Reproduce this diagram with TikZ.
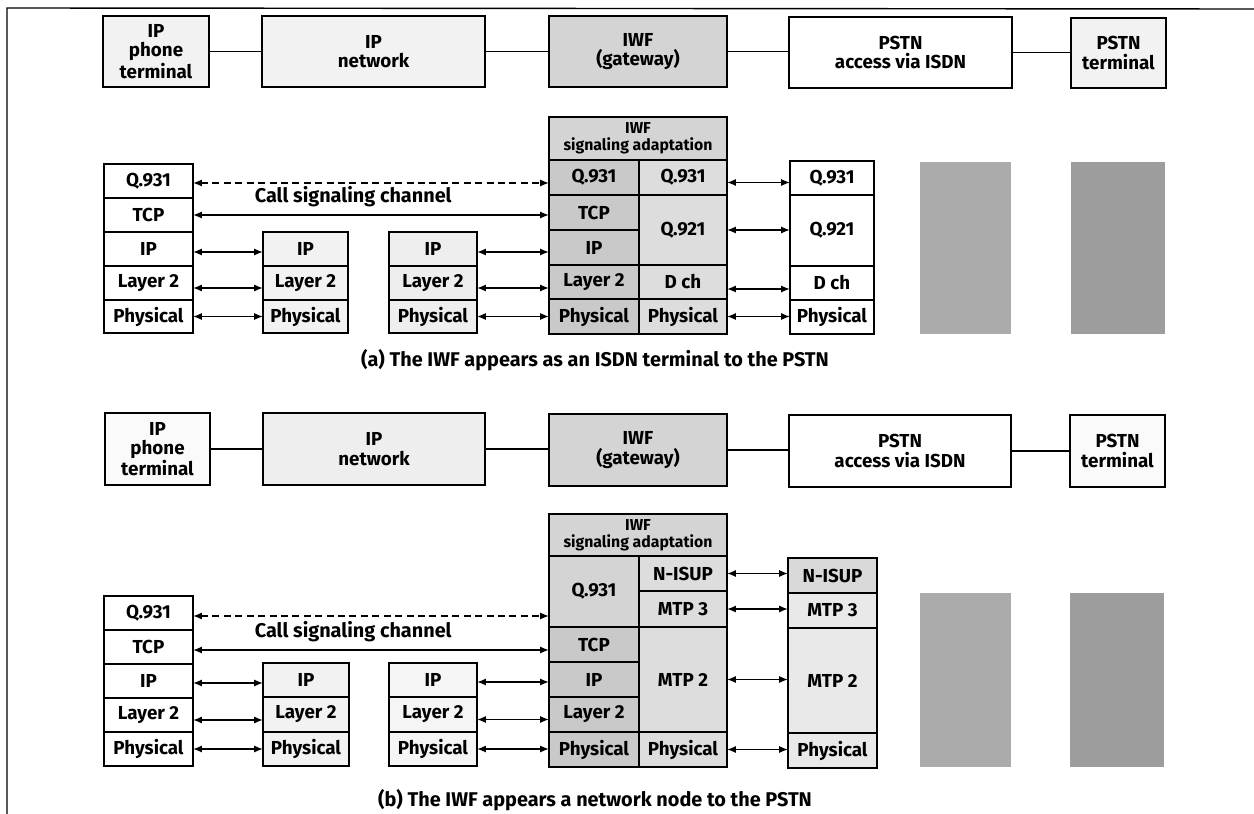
\documentclass[tikz,border=0pt]{standalone}
\usepackage{fontspec}
\setmainfont{Fira Sans}
\usetikzlibrary{arrows.meta}
\tikzset{>={Latex[length=5pt,width=4pt]}}
\colorlet{lightfill}{gray!10}
\colorlet{iwffill}{gray!34}
\colorlet{iwfdark}{gray!42}
\colorlet{iwflight}{gray!27}
\colorlet{pstnfill}{gray!17}
\colorlet{noiseA}{gray!66}
\colorlet{noiseB}{gray!77}
\tikzstyle{cell}=[draw,line width=0.9pt,inner sep=0pt,outer sep=0pt,align=center,
  font=\bfseries\fontsize{10.7}{11}\selectfont]
\tikzstyle{head}=[font=\bfseries\fontsize{9}{9.6}\selectfont]
\tikzstyle{caption}=[font=\bfseries\fontsize{11.3}{12}\selectfont]
\tikzstyle{link}=[<->,line width=0.9pt]
\tikzstyle{wire}=[line width=0.9pt]
% \cell{name}{x1}{y1}{x2}{y2}{options}{text}, in pixels
\def\cell#1#2#3#4#5#6#7{\node[cell,#6,minimum width={(#4-#2)*0.02cm},
  minimum height={(#5-#3)*0.02cm}] (#1) at ({(#2+#4)/2},{(#3+#5)/2}) {#7};}

\begin{document}
\begin{tikzpicture}[x=0.02cm,y=-0.02cm]
  \useasboundingbox (0,0) rectangle (1254,814);
  % FRAME
  \draw[line width=0.8pt] (1254,9) -- (7,8) -- (7,814);

  % TOP ROW (a)
  \cell{aphone}{103}{16}{209}{87}{fill=lightfill}{IP\\phone\\terminal}
  \cell{anet}{262}{16}{485}{87}{fill=lightfill}{IP\\network}
  \cell{agw}{549}{16}{727}{87}{fill=iwffill}{IWF\\(gateway)}
  \cell{aacc}{789}{17}{1012}{88}{fill=white}{PSTN\\access via ISDN}
  \cell{aterm}{1071}{18}{1166}{88}{fill=lightfill}{PSTN\\terminal}
  \draw[wire] (aphone.east) -- (aphone.east -| anet.west);
  \draw[wire] (anet.east) -- (anet.east -| agw.west);
  \draw[wire] (agw.east) -- (agw.east -| aacc.west);
  \draw[wire] (aacc.east) -- (aacc.east -| aterm.west);

  % STACKS (a)
  \cell{alq}{104}{164}{193}{198}{fill=white}{Q.931}
  \cell{alt}{104}{198}{193}{232}{fill=white}{TCP}
  \cell{ali}{104}{232}{193}{266}{fill=white}{IP}
  \cell{all}{104}{266}{193}{300}{fill=white}{Layer 2}
  \cell{alp}{104}{300}{193}{333}{fill=white}{Physical}
  \cell{ari}{263}{232}{348}{266}{fill=lightfill}{IP}
  \cell{arl}{263}{266}{348}{300}{fill=lightfill}{Layer 2}
  \cell{arp}{263}{300}{348}{333}{fill=lightfill}{Physical}
  \cell{asi}{389}{232}{477}{266}{fill=gray!13}{IP}
  \cell{asl}{389}{266}{477}{300}{fill=gray!13}{Layer 2}
  \cell{asp}{389}{300}{477}{333}{fill=gray!13}{Physical}
  \cell{aiwf}{549}{117}{727}{160}{fill=iwffill,head}{IWF\\signaling adaptation}
  \cell{aiq}{549}{160}{639}{195}{fill=iwfdark}{Q.931}
  \cell{ait}{549}{195}{639}{230}{fill=iwfdark}{TCP}
  \cell{aii}{549}{230}{639}{265}{fill=iwfdark}{IP}
  \cell{ail}{549}{265}{639}{299}{fill=iwfdark}{Layer 2}
  \cell{aip}{549}{299}{639}{334}{fill=iwfdark}{Physical}
  \cell{ajq}{639}{160}{727}{195}{fill=iwflight}{Q.931}
  \cell{ajn}{639}{195}{727}{265}{fill=iwflight}{Q.921}
  \cell{ajd}{639}{265}{727}{299}{fill=iwflight}{D ch}
  \cell{ajp}{639}{299}{727}{334}{fill=iwflight}{Physical}
  \cell{apq}{790}{161}{874}{195}{fill=white}{Q.931}
  \cell{apn}{790}{195}{874}{266}{fill=white}{Q.921}
  \cell{apd}{790}{266}{874}{300}{fill=white}{D ch}
  \cell{app}{790}{300}{874}{334}{fill=white}{Physical}
  \fill[noiseA] (920,162) rectangle (1011,334);
  \fill[noiseB] (1071,162) rectangle (1165,334);

  % ARROWS (a)
  \draw[link,dash pattern=on 4pt off 2.5pt] (alq.east) ++(0,2) coordinate (aq0) -- (aq0 -| aiq.west);
  \draw[link] (alt.east) -- node[pos=0.45,above=1pt,caption] (acall) {Call signaling channel} (alt.east -| ait.west);
  \draw[link] ([yshift=-0.06cm]ali.east) -- ([yshift=-0.06cm]ali.east -| ari.west);
  \draw[link] ([yshift=-0.1cm]all.east) -- ([yshift=-0.1cm]all.east -| arl.west);
  \draw[link] (alp.east) -- (alp.east -| arp.west);
  \draw[link] ([yshift=-0.06cm]asi.east) -- ([yshift=-0.06cm]asi.east -| aii.west);
  \draw[link] ([yshift=-0.1cm]asl.east) -- ([yshift=-0.1cm]asl.east -| ail.west);
  \draw[link] (asp.east) -- (asp.east -| aip.west);
  \draw[link] ([yshift=-0.1cm]ajq.east) -- ([yshift=-0.1cm]ajq.east -| apq.west);
  \draw[link] (ajn.east) -- (ajn.east -| apn.west);
  \draw[link] ([yshift=-0.14cm]ajd.east) -- ([yshift=-0.14cm]ajd.east -| apd.west);
  \draw[link] (ajp.east) -- (ajp.east -| app.west);
  \node[caption] (capa) at (595,360) {(a) The IWF appears as an ISDN terminal to the PSTN};

  % TOP ROW (b)
  \cell{bphone}{105}{413}{210}{485}{fill=gray!4}{IP\\phone\\terminal}
  \cell{bnet}{263}{413}{485}{485}{fill=gray!13}{IP\\network}
  \cell{bgw}{549}{414}{727}{486}{fill=iwffill}{IWF\\(gateway)}
  \cell{bacc}{789}{415}{1011}{487}{fill=white}{PSTN\\access via ISDN}
  \cell{bterm}{1070}{415}{1165}{487}{fill=gray!4}{PSTN\\terminal}
  \draw[wire] (bphone.east) -- (bphone.east -| bnet.west);
  \draw[wire] (bnet.east) -- (bnet.east -| bgw.west);
  \draw[wire] (bgw.east) -- (bgw.east -| bacc.west);
  \draw[wire] (bacc.east) -- (bacc.east -| bterm.west);

  % STACKS (b)
  \cell{blq}{104}{596}{193}{630}{fill=white}{Q.931}
  \cell{blt}{104}{630}{193}{664}{fill=white}{TCP}
  \cell{bli}{104}{664}{193}{698}{fill=white}{IP}
  \cell{bll}{104}{698}{193}{732}{fill=white}{Layer 2}
  \cell{blp}{104}{732}{193}{766}{fill=white}{Physical}
  \cell{bri}{263}{663}{349}{697}{fill=lightfill}{IP}
  \cell{brl}{263}{697}{349}{732}{fill=lightfill}{Layer 2}
  \cell{brp}{263}{732}{349}{766}{fill=lightfill}{Physical}
  \cell{bsi}{389}{663}{477}{697}{fill=gray!8}{IP}
  \cell{bsl}{389}{697}{477}{732}{fill=gray!8}{Layer 2}
  \cell{bsp}{389}{732}{477}{766}{fill=gray!8}{Physical}
  \cell{biwf}{549}{514}{727}{556}{fill=iwffill,head}{IWF\\signaling adaptation}
  \cell{biq}{549}{556}{639}{627}{fill=iwffill}{Q.931}
  \cell{bit}{549}{627}{639}{662}{fill=iwfdark}{TCP}
  \cell{bii}{549}{662}{639}{697}{fill=iwfdark}{IP}
  \cell{bil}{549}{697}{639}{732}{fill=iwfdark}{Layer 2}
  \cell{bip}{549}{732}{639}{767}{fill=iwfdark}{Physical}
  \cell{bjn}{639}{556}{727}{591}{fill=iwflight}{N-ISUP}
  \cell{bjm}{639}{591}{727}{627}{fill=iwflight}{MTP 3}
  \cell{bjt}{639}{627}{727}{732}{fill=iwflight}{MTP 2}
  \cell{bjp}{639}{732}{727}{767}{fill=iwflight}{Physical}
  \cell{bpn}{788}{558}{877}{593}{fill=gray!30}{N-ISUP}
  \cell{bpm}{788}{593}{877}{628}{fill=pstnfill}{MTP 3}
  \cell{bpt}{788}{628}{877}{733}{fill=pstnfill}{MTP 2}
  \cell{bpp}{788}{733}{877}{768}{fill=pstnfill}{Physical}
  \fill[noiseA] (920,593) rectangle (1011,767);
  \fill[noiseB] (1070,593) rectangle (1164,767);

  % ARROWS (b)
  \draw[link,dash pattern=on 4pt off 2.5pt] (blq.east) ++(0,3) coordinate (bq0) -- (bq0 -| biq.west);
  \draw[link] (blt.east) ++(0,3) coordinate (bt0) -- node[pos=0.45,above=1pt,caption] (bcall) {Call signaling channel} (bt0 -| bit.west);
  \draw[link] ([yshift=-0.04cm]bli.east) -- ([yshift=-0.04cm]bli.east -| bri.west);
  \draw[link] ([yshift=-0.1cm]bll.east) -- ([yshift=-0.1cm]bll.east -| brl.west);
  \draw[link] (blp.east) -- (blp.east -| brp.west);
  \draw[link] ([yshift=-0.04cm]bsi.east) -- ([yshift=-0.04cm]bsi.east -| bii.west);
  \draw[link] ([yshift=-0.1cm]bsl.east) -- ([yshift=-0.1cm]bsl.east -| bil.west);
  \draw[link] (bsp.east) -- (bsp.east -| bip.west);
  \draw[link] (bjn.east) -- (bjn.east -| bpn.west);
  \draw[link] (bjm.east) -- (bjm.east -| bpm.west);
  \draw[link] (bjt.east) -- (bjt.east -| bpt.west);
  \draw[link] (bjp.east) -- (bjp.east -| bpp.west);
  \node[caption] (capb) at (595,800) {(b) The IWF appears a network node to the PSTN};
\end{tikzpicture}
\end{document}
